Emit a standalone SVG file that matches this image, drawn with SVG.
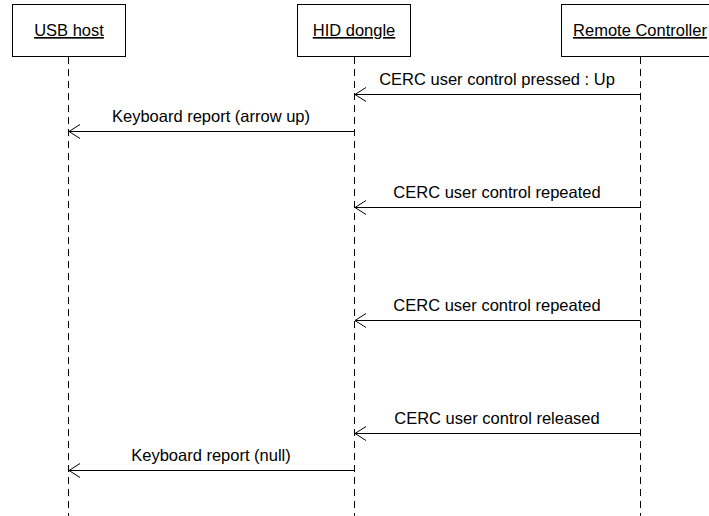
<svg xmlns="http://www.w3.org/2000/svg" width="709" height="516" viewBox="0 0 709 516">
<defs>
<marker id="open" markerUnits="userSpaceOnUse" markerWidth="14" markerHeight="18" refX="12" refY="8" orient="auto" viewBox="0 0 14 18">
<polyline points="1,1 12,8 1,15" fill="none" stroke="#000" stroke-width="1"/>
</marker>
</defs>
<style>
.box{fill:#fff;stroke:#000;stroke-width:1}
.life{stroke:#000;stroke-width:1;stroke-dasharray:7 5}
.msg{stroke:#000;stroke-width:1;fill:none;marker-end:url(#open)}
.lbl{font-family:"Liberation Sans",Arial,sans-serif;font-size:16.5px;fill:#000;text-anchor:middle}
.name{text-decoration:underline}
</style>
<rect width="709" height="516" fill="#fff"/>
<g id="lifelines">
<line class="life" x1="68.5" y1="57" x2="68.5" y2="516"/>
<line class="life" x1="354.5" y1="57" x2="354.5" y2="516"/>
<line class="life" x1="640.5" y1="57" x2="640.5" y2="516"/>
</g>
<g id="usb-host">
<rect class="box" x="12.5" y="4.5" width="113" height="52"/>
<text class="lbl name" x="69" y="36">USB host</text>
</g>
<g id="hid-dongle">
<rect class="box" x="297.5" y="4.5" width="113" height="52"/>
<text class="lbl name" x="354" y="36">HID dongle</text>
</g>
<g id="remote-controller">
<rect class="box" x="561.5" y="4.5" width="158" height="52"/>
<text class="lbl name" x="640" y="36">Remote Controller</text>
</g>
<g id="connectors">
<line class="msg" x1="640.5" y1="94.5" x2="355" y2="94.5"/>
<text class="lbl" x="497" y="85">CERC user control pressed : Up</text>
<line class="msg" x1="354.5" y1="131.5" x2="69" y2="131.5"/>
<text class="lbl" x="211" y="122">Keyboard report (arrow up)</text>
<line class="msg" x1="640.5" y1="207.5" x2="355" y2="207.5"/>
<text class="lbl" x="497" y="198">CERC user control repeated</text>
<line class="msg" x1="640.5" y1="320.5" x2="355" y2="320.5"/>
<text class="lbl" x="497" y="311">CERC user control repeated</text>
<line class="msg" x1="640.5" y1="433.5" x2="355" y2="433.5"/>
<text class="lbl" x="497" y="424">CERC user control released</text>
<line class="msg" x1="354.5" y1="470.5" x2="69" y2="470.5"/>
<text class="lbl" x="211" y="461">Keyboard report (null)</text>
</g>
</svg>
